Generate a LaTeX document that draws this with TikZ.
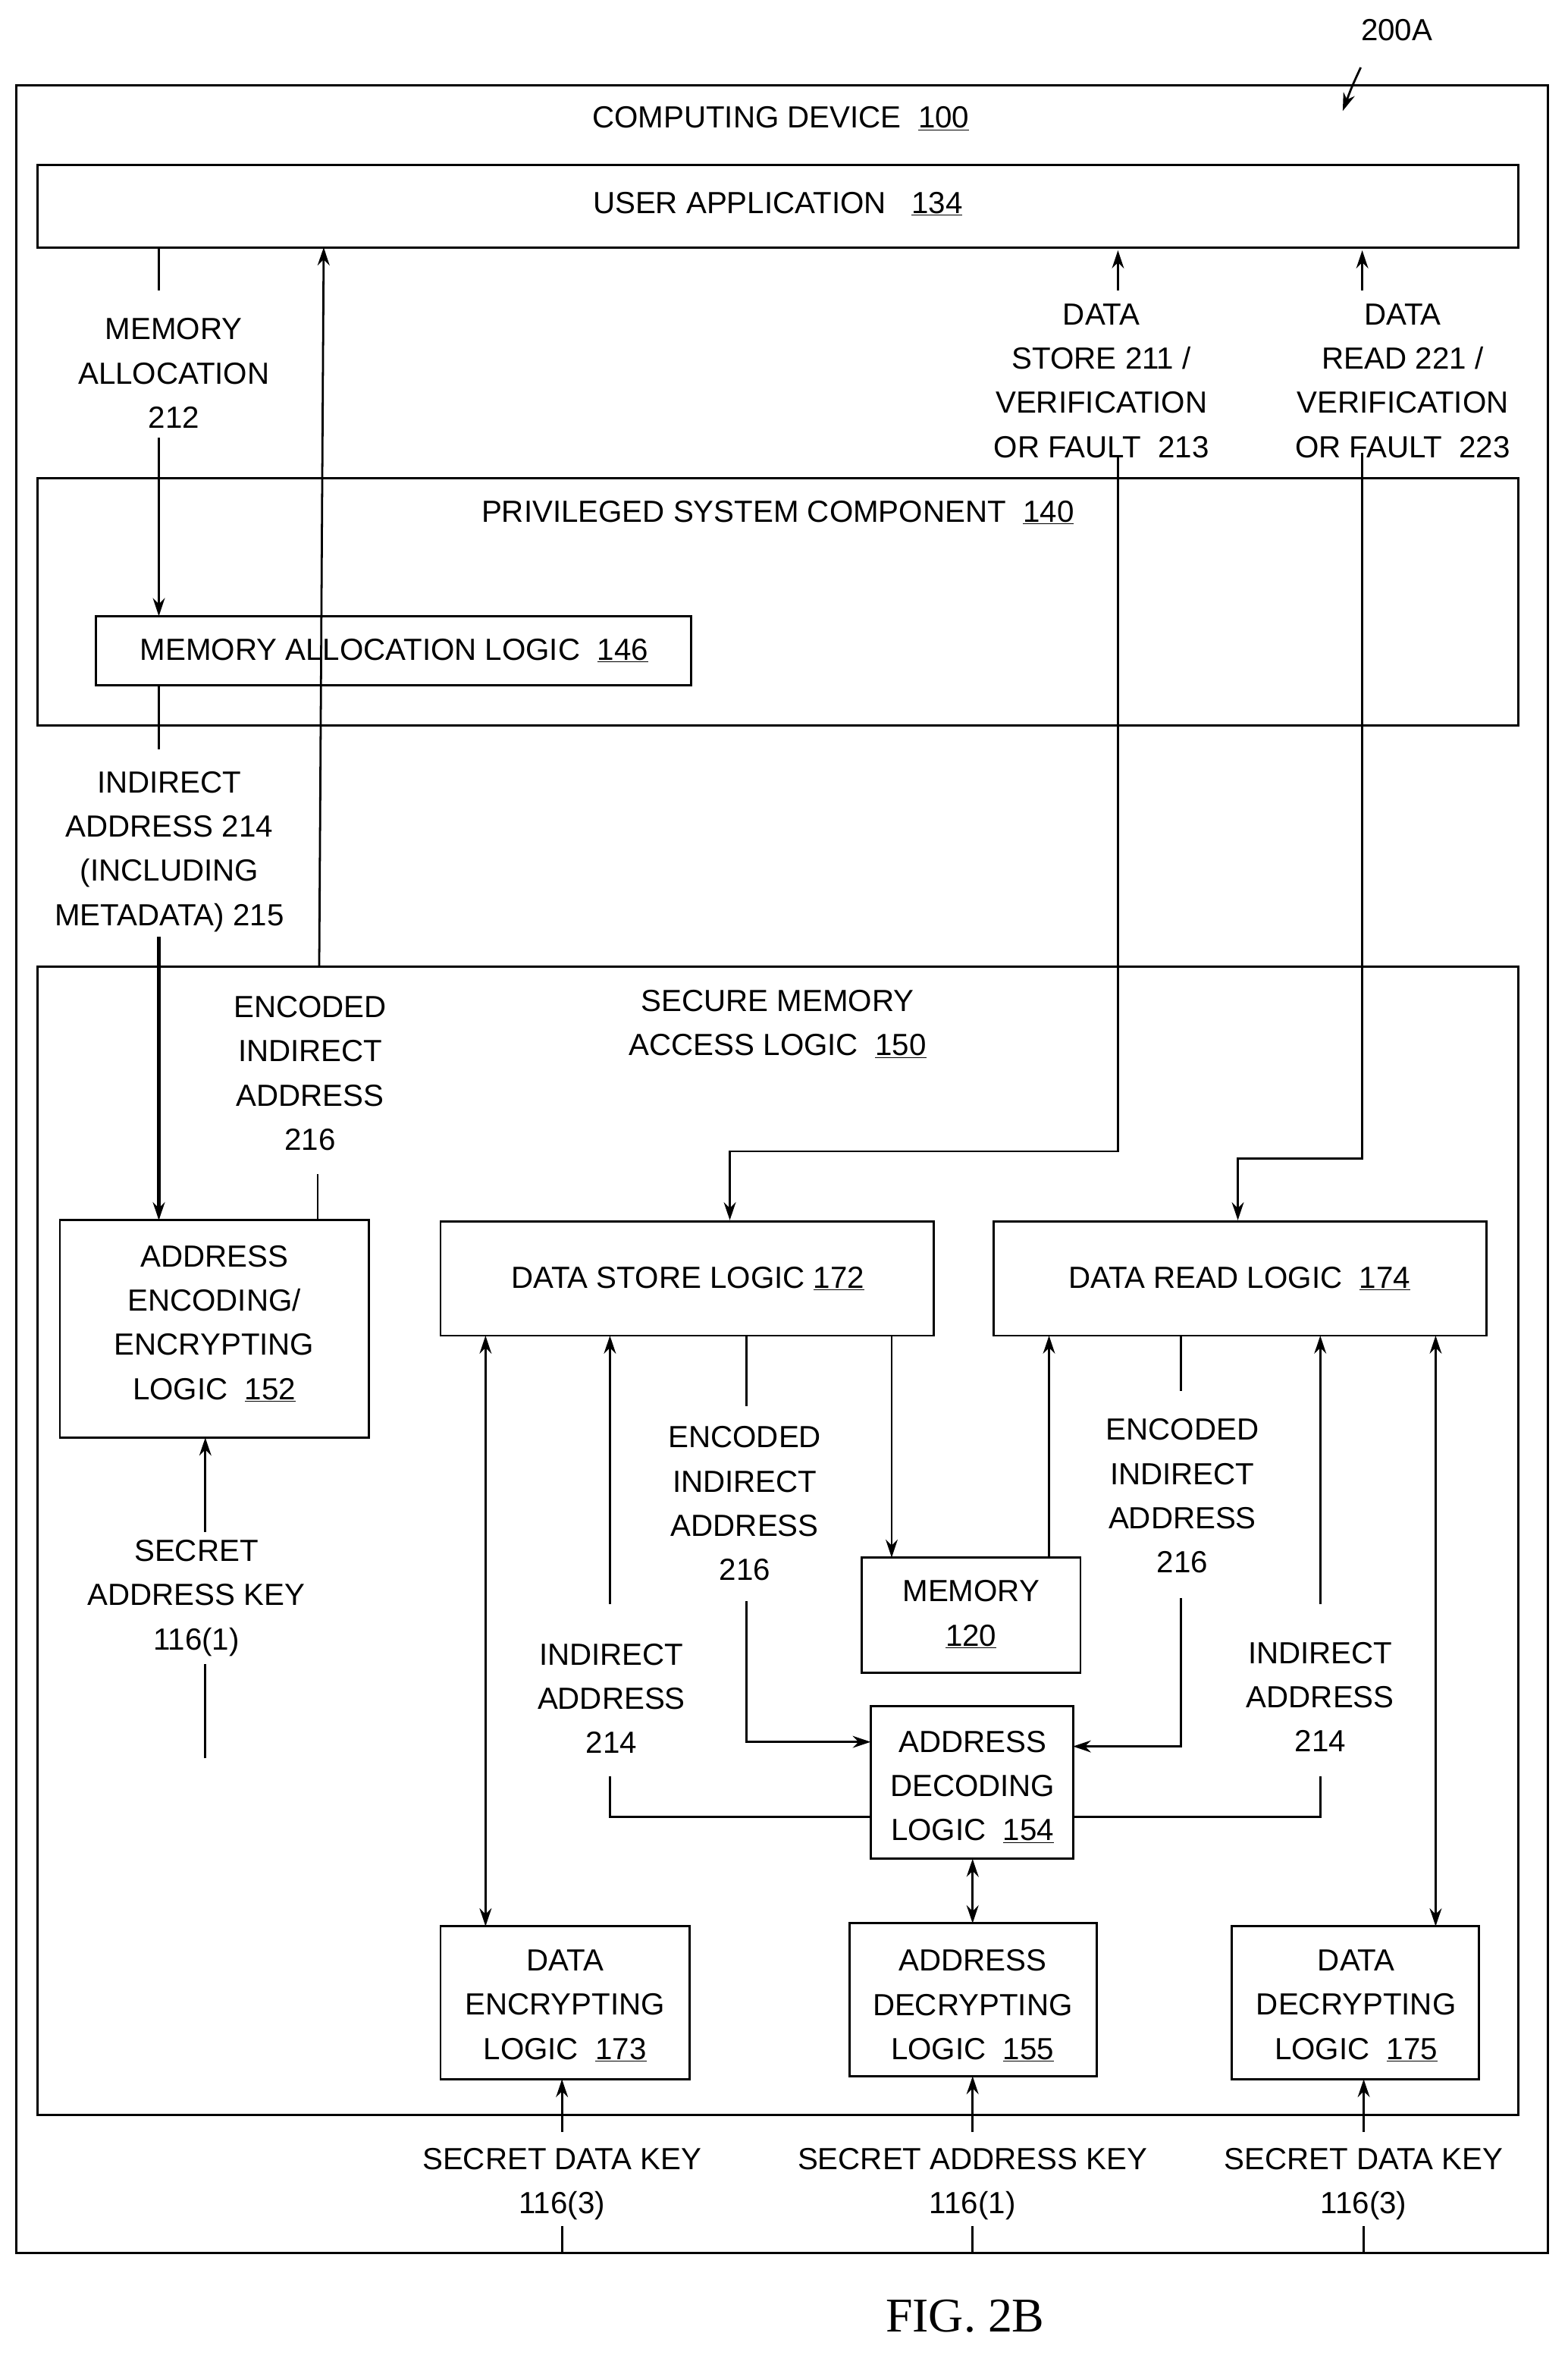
\documentclass[tikz,border=0pt]{standalone}
\usepackage{fontspec}
\setmainfont{Liberation Sans}
\newfontfamily\figfont{Liberation Serif}
\usetikzlibrary{arrows.meta}
\begin{document}
\begin{tikzpicture}[x=0.5mm,y=-0.5mm,
  every node/.style={font=\fontsize{29}{42}\selectfont, align=center, inner sep=0pt},
  box/.style={draw, line width=2pt},
  ln/.style={line width=2pt},
  ar/.style={line width=2pt, -{Stealth[length=6mm,width=4mm]}},
  dar/.style={line width=2pt, {Stealth[length=6mm,width=4mm]}-{Stealth[length=6mm,width=4mm]}},
  thick ar/.style={line width=3pt, -{Stealth[length=6mm,width=4mm]}}]
\useasboundingbox (0,0) rectangle (1046,1571);
% frames
\draw[box] (11,57) rectangle (1033,1503);
\node (t200) at (932,20) {200A};
\draw[ar] (908,45) .. controls (902,58) .. (896,74);
\node (cd) at (521,79) {COMPUTING DEVICE\ \ \underline{100}};
\draw[box] (25,110) rectangle (1013,165);
\node (ua) at (519,136) {USER APPLICATION\ \ \ \underline{134}};
\draw[box] (25,319) rectangle (1013,484);
\node (psc) at (519,342) {PRIVILEGED SYSTEM COMPONENT\ \ \underline{140}};
\draw[box] (64,411) rectangle (461,457);
\node (mal) at (263,434) {MEMORY ALLOCATION LOGIC\ \ \underline{146}};
\draw[box] (25,645) rectangle (1013,1411);
\node (sma) at (519,683) {SECURE MEMORY\\ACCESS LOGIC\ \ \underline{150}};
% memory allocation
\node (l212) at (116,249) {MEMORY\\ALLOCATION\\212};
\draw[ln] (106,165) -- (106,194);
\draw[ar] (106,292) -- (106,411);
% up arrow encoded 216
\draw[ar] (213,645) -- (216,165);
\node (l216a) at (207,716) {ENCODED\\INDIRECT\\ADDRESS\\216};
\draw[ln] (212,783) -- (212,814);
% data store 211
\node (l211) at (735,254) {DATA\\STORE 211 /\\VERIFICATION\\OR FAULT\ \ 213};
\draw[ar] (746,194) -- (746,167);
\draw[ar] (746,305) -- (746,768) -- (487,768) -- (487,814);
% data read 221
\node (l221) at (936,254) {DATA\\READ 221 /\\VERIFICATION\\OR FAULT\ \ 223};
\draw[ar] (909,194) -- (909,167);
\draw[ar] (909,302) -- (909,773) -- (826,773) -- (826,814);
% indirect address 214
\draw[ln] (106,457) -- (106,500);
\node (l214) at (113,568) {INDIRECT\\ADDRESS 214\\(INCLUDING\\METADATA) 215};
\draw[thick ar] (106,625) -- (106,814);
% boxes
\draw[box] (40,814) rectangle (246,959);
\node (aenc) at (143,883) {ADDRESS\\ENCODING/\\ENCRYPTING\\LOGIC\ \ \underline{152}};
\node (skey) at (131,1066) {SECRET\\ADDRESS KEY\\116(1)};
\draw[ar] (137,1022) -- (137,959);
\draw[ln] (137,1173) -- (137,1110);
\draw[box] (294,815) rectangle (623,891);
\node (dsl) at (459,853) {DATA STORE LOGIC \underline{172}};
\draw[box] (663,815) rectangle (992,891);
\node (drl) at (827,853) {DATA READ LOGIC\ \ \underline{174}};
\draw[box] (575,1039) rectangle (721,1116);
\node (mem) at (648,1077) {MEMORY\\\underline{120}};
\draw[box] (581,1138) rectangle (716,1240);
\node (adl) at (649,1192) {ADDRESS\\DECODING\\LOGIC\ \ \underline{154}};
\draw[box] (294,1285) rectangle (460,1387);
\node (del) at (377,1338) {DATA\\ENCRYPTING\\LOGIC\ \ \underline{173}};
\draw[box] (567,1283) rectangle (732,1385);
\node (adc) at (649,1338) {ADDRESS\\DECRYPTING\\LOGIC\ \ \underline{155}};
\draw[box] (822,1285) rectangle (987,1387);
\node (ddl) at (905,1338) {DATA\\DECRYPTING\\LOGIC\ \ \underline{175}};
% inner connectors
\draw[dar] (324,891) -- (324,1285);
\draw[dar] (958,891) -- (958,1285);
\draw[dar] (649,1240) -- (649,1283);
\node (ia1) at (408,1133) {INDIRECT\\ADDRESS\\214};
\draw[ar] (407,1070) -- (407,891);
\draw[ln] (407,1185) -- (407,1212) -- (581,1212);
\node (ea1) at (497,1003) {ENCODED\\INDIRECT\\ADDRESS\\216};
\draw[ln] (498,891) -- (498,938);
\draw[ar] (498,1068) -- (498,1162) -- (581,1162);
\draw[ar] (595,891) -- (595,1039);
\draw[ar] (700,1039) -- (700,891);
\node (ea2) at (789,998) {ENCODED\\INDIRECT\\ADDRESS\\216};
\draw[ln] (788,891) -- (788,928);
\draw[ar] (788,1066) -- (788,1165) -- (716,1165);
\node (ia2) at (881,1132) {INDIRECT\\ADDRESS\\214};
\draw[ar] (881,1070) -- (881,891);
\draw[ln] (881,1185) -- (881,1212) -- (716,1212);
% bottom keys
\node (k1) at (375,1457) {SECRET DATA KEY\\116(3)};
\draw[ln] (375,1503) -- (375,1485);
\draw[ar] (375,1422) -- (375,1387);
\node (k2) at (649,1457) {SECRET ADDRESS KEY\\116(1)};
\draw[ln] (649,1503) -- (649,1485);
\draw[ar] (649,1422) -- (649,1385);
\node (k3) at (910,1457) {SECRET DATA KEY\\116(3)};
\draw[ln] (910,1503) -- (910,1485);
\draw[ar] (910,1422) -- (910,1387);
\node[font=\figfont\fontsize{46}{50}\selectfont] (fig) at (644,1545) {FIG. 2B};
\end{tikzpicture}
\end{document}
